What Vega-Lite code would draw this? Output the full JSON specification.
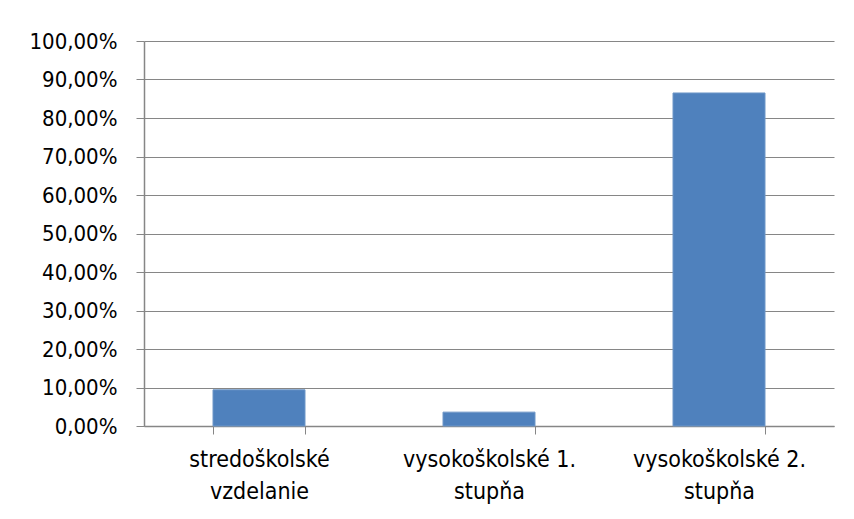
{
  "$schema": "https://vega.github.io/schema/vega-lite/v6.json",
  "autosize": {"type": "none"},
  "width": 690,
  "height": 385,
  "padding": {"left": 144, "top": 41, "right": 20, "bottom": 93},
  "background": "white",
  "data": {"values": [
    {"kategoria": "stredoškolské vzdelanie", "podiel": 0.094},
    {"kategoria": "vysokoškolské 1. stupňa", "podiel": 0.036},
    {"kategoria": "vysokoškolské 2. stupňa", "podiel": 0.865}
  ]},
  "mark": {"type": "bar", "color": "#4F81BD", "stroke": "#6F97C8", "strokeWidth": 1},
  "encoding": {
    "x": {
      "field": "kategoria", "type": "nominal", "sort": null,
      "scale": {"paddingInner": 0.6, "paddingOuter": 0.3},
      "axis": {
        "title": null, "labelAngle": 0,
        "labelExpr": "[substring(datum.label, 0, lastindexof(datum.label, ' ')), substring(datum.label, lastindexof(datum.label, ' ') + 1)]",
        "labelFont": "DejaVu Sans Condensed, sans-serif",
        "labelFontSize": 23, "labelColor": "#000000", "labelLineHeight": 32,
        "labelPadding": 14,
        "tickBand": "extent", "ticks": true, "tickSize": 8, "tickColor": "#868686",
        "domainColor": "#868686", "domainWidth": 1.5, "grid": false
      }
    },
    "y": {
      "field": "podiel", "type": "quantitative",
      "scale": {"domain": [0, 1], "nice": false},
      "axis": {
        "title": null, "values": [0, 0.1, 0.2, 0.3, 0.4, 0.5, 0.6, 0.7, 0.8, 0.9, 1],
        "labelExpr": "replace(format(datum.value, '.2%'), '.', ',')",
        "labelFont": "DejaVu Sans Condensed, sans-serif",
        "labelFontSize": 22, "labelColor": "#000000", "labelPadding": 19,
        "tickSize": 8, "tickColor": "#868686", "domainColor": "#868686", "domainWidth": 1.5,
        "grid": true, "gridColor": "#868686", "gridWidth": 1.2
      }
    }
  },
  "config": {"view": {"stroke": null}}
}
